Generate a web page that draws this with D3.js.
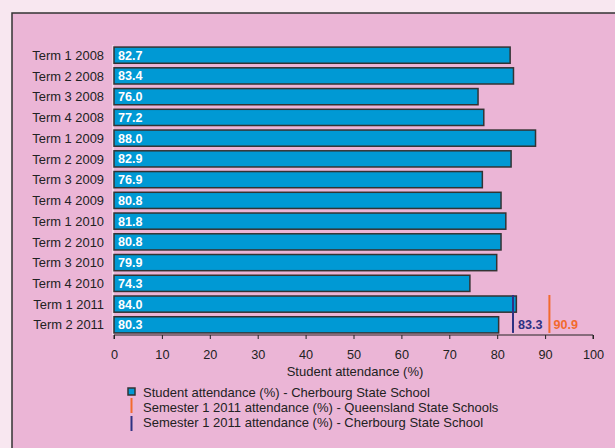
<!DOCTYPE html>
<html><head><meta charset="utf-8">
<script src="https://cdn.jsdelivr.net/npm/d3@7"></script>
<style>html,body{margin:0;padding:0;background:#f8e7f0;}svg{display:block;}</style>
</head><body>
<script>
const categories = ["Term 1 2008","Term 2 2008","Term 3 2008","Term 4 2008","Term 1 2009","Term 2 2009","Term 3 2009","Term 4 2009","Term 1 2010","Term 2 2010","Term 3 2010","Term 4 2010","Term 1 2011","Term 2 2011"];
const attendance = [82.7,83.4,76.0,77.2,88.0,82.9,76.9,80.8,81.8,80.8,79.9,74.3,84.0,80.3];
const qldSemester = 90.9;
const cherbourgSemester = 83.3;
const xTicks = [0,10,20,30,40,50,60,70,80,90,100];
const legendLabels = ["Student attendance (%) - Cherbourg State School","Semester 1 2011 attendance (%) - Queensland State Schools","Semester 1 2011 attendance (%) - Cherbourg State School"];

const W=615,H=448;
const svg=d3.select("body").append("svg").attr("width",W).attr("height",H);
svg.append("rect").attr("width",W).attr("height",H).attr("fill","#f8e7f0");
svg.append("rect").attr("x",12).attr("y",13).attr("width",W).attr("height",H).attr("fill","#ebb5d6").attr("stroke","#333").attr("stroke-width",1.5);

const x=d3.scaleLinear().domain([0,100]).range([114,593]);
const y=d3.scaleBand().domain(categories).range([45,335]).paddingInner(0.22).paddingOuter(0.1);
const font="'Liberation Sans', Arial, sans-serif";

svg.append("line").attr("x1",x(0)-1).attr("x2",x(0)-1).attr("y1",45).attr("y2",335).attr("stroke","#f5e0ec").attr("stroke-width",1.5);

const g=svg.append("g");
g.selectAll("rect.bar").data(attendance).enter().append("rect").attr("class","bar")
 .attr("x",x(0)).attr("y",(d,i)=>y(categories[i])).attr("width",d=>x(d)-x(0)).attr("height",y.bandwidth())
 .attr("fill","#0099d4").attr("stroke","#333").attr("stroke-width",1.5);
g.selectAll("text.val").data(attendance).enter().append("text").attr("class","val")
 .attr("x",x(0)+4).attr("y",(d,i)=>y(categories[i])+y.bandwidth()/2).attr("dy","0.36em")
 .attr("fill","#fff").attr("font-weight","bold").attr("font-family",font).attr("font-size",12.6).text(d=>d.toFixed(1));

svg.selectAll("text.cat").data(categories).enter().append("text").attr("class","cat")
 .attr("x",x(0)-10).attr("y",d=>y(d)+y.bandwidth()/2).attr("dy","0.36em").attr("text-anchor","end")
 .attr("fill","#222").attr("font-family",font).attr("font-size",12.9).text(d=>d);

const ax=svg.append("g").attr("transform","translate(0,335)")
 .call(d3.axisBottom(x).tickValues(xTicks).tickSize(4).tickFormat(d3.format("d")));
ax.select(".domain").attr("stroke","#222").attr("d",`M${x(0)},4V0H${x(100)}V4`);
ax.selectAll(".tick line").attr("stroke","#222");
ax.selectAll(".tick text").attr("font-family",font).attr("font-size",12.7).attr("fill","#222").attr("y",24).attr("dy","0");
svg.append("text").attr("x",355).attr("y",371).attr("dy","0.36em").attr("text-anchor","middle").attr("font-family",font).attr("font-size",13).attr("fill","#222").text("Student attendance (%)");

const last=categories[categories.length-1];
const ly1=295, ly2=y(last)+y.bandwidth();
svg.append("line").attr("x1",x(cherbourgSemester)).attr("x2",x(cherbourgSemester)).attr("y1",ly1).attr("y2",ly2).attr("stroke","#2e3182").attr("stroke-width",2);
svg.append("line").attr("x1",x(qldSemester)).attr("x2",x(qldSemester)).attr("y1",ly1).attr("y2",ly2).attr("stroke","#f26a2e").attr("stroke-width",2);
svg.append("text").attr("x",x(cherbourgSemester)+5).attr("y",y(last)+y.bandwidth()/2).attr("dy","0.36em").attr("font-family",font).attr("font-weight","bold").attr("font-size",12.6).attr("fill","#2e3182").text(cherbourgSemester.toFixed(1));
svg.append("text").attr("x",x(qldSemester)+4).attr("y",y(last)+y.bandwidth()/2).attr("dy","0.36em").attr("font-family",font).attr("font-weight","bold").attr("font-size",12.6).attr("fill","#f26a2e").text(qldSemester.toFixed(1));

const lg=svg.append("g");
const ys=[392,407.5,422];
lg.append("rect").attr("x",128).attr("y",388).attr("width",7).attr("height",7).attr("fill","#0099d4").attr("stroke","#333").attr("stroke-width",1.5);
lg.append("line").attr("x1",131.5).attr("x2",131.5).attr("y1",398).attr("y2",413).attr("stroke","#f26a2e").attr("stroke-width",2);
lg.append("line").attr("x1",131.5).attr("x2",131.5).attr("y1",416).attr("y2",431).attr("stroke","#2e3182").attr("stroke-width",2);
lg.selectAll("text").data(legendLabels).enter().append("text").attr("x",143).attr("y",(d,i)=>ys[i]).attr("dy","0.36em")
 .attr("font-family",font).attr("font-size",13).attr("fill","#222").text(d=>d);
</script>
</body></html>
